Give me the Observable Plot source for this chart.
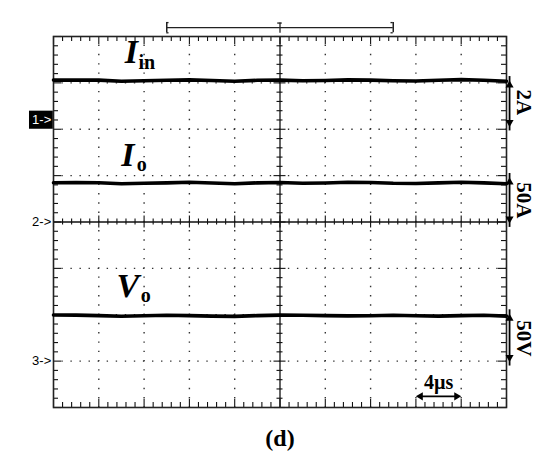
<!DOCTYPE html>
<html><head><meta charset="utf-8">
<script src="https://cdn.jsdelivr.net/npm/d3@7"></script>
<script src="https://cdn.jsdelivr.net/npm/@observablehq/plot@0.6"></script>
<style>body{margin:0;background:#fff}</style>
</head><body><div id="chart"></div>
<script>
// ---- data ----
const time = [0,2,4,6,8,10,12,14,16,18,20,22,24,26,28,30,32,34,36,38,40]; // µs
const iin  = [1.72,1.72,1.72,1.67,1.69,1.71,1.73,1.70,1.67,1.71,1.72,1.69,1.70,1.73,1.72,1.69,1.68,1.71,1.74,1.71,1.67]; // A
const io   = [42.3,42.5,42.3,41.2,41.7,42.2,42.8,42.0,41.2,42.2,42.6,41.7,42.0,42.8,42.6,41.7,41.5,42.2,42.9,42.2,41.2]; // A
const vo   = [49.7,49.6,49.1,48.4,49.0,49.4,49.1,48.5,48.3,49.1,49.6,49.4,49.1,48.8,49.0,49.4,49.0,48.5,49.1,49.4,48.5]; // V
const channelNames = ["1->","2->","3->"];
const channelGround = [2.2, 0, -3];      // divisions
const channelPerDiv = [2, 50, 50];       // units per division
const scaleLabels = ["2A","50A","50V"];
const traceMain = ["I","I","V"];
const traceSub = ["in","o","o"];
const timeLabel = "4µs";
const caption = "(d)";
const usPerDiv = 4;

// ---- layout ----
const W = 550, H = 462, ML = 53, MR = 44, MT = 36, MB = 55;
const XPX = (W - ML - MR) / 40, YPX = (H - MT - MB) / 8;
const series = [iin, io, vo];
const traces = series.flatMap((vals, c) => time.map((t, i) => ({t, c, y: channelGround[c] + vals[i] / channelPerDiv[c]})));

const minorX = d3.range(0, 51).map(i => ({x: i * 0.8, major: i % 5 === 0}));
const minorY = d3.range(0, 41).map(i => ({y: -4 + i * 0.2, major: i % 5 === 0}));
const gridX = [1,2,3,4,6,7,8,9].map(k => k * usPerDiv);
const gridY = [-3,-2,-1,1,2,3];
const edge = d => (d.major ? 8 : 5);
const cen = d => (d.major ? 6 : 3);

const mainPos = [{x:6.3,y:3.42},{x:5.98,y:1.20},{x:5.56,y:-1.62}];
const subPos = [{x:7.5,y:3.30},{x:7.35,y:1.11},{x:7.7,y:-1.72}];
const scaleArrows = [{y1:2.05,y2:3.05},{y1:-0.03,y2:0.96},{y1:-3.02,y2:-1.98}];
const scaleLabelY = [2.58, 0.47, -2.51];
const markerY = [2.2, 0, -3];
const ax = 40.27, lx = 41.5;

const ink = "#111";
const chart = Plot.plot({
  width: W, height: H, marginLeft: ML, marginRight: MR, marginTop: MT, marginBottom: MB,
  x: {domain: [0, 40], axis: null},
  y: {domain: [-4, 4], axis: null},
  marks: [
    // dotted grid
    Plot.ruleX(gridX, {x: d => d, y1: -4, y2: 4, stroke: "#333", strokeWidth: 1.4, strokeDasharray: `1.4,${(0.2*YPX-1.4).toFixed(3)}`, strokeDashoffset: 0.7}),
    Plot.ruleY(gridY, {y: d => d, x1: 0, x2: 40, stroke: "#333", strokeWidth: 1.4, strokeDasharray: `1.4,${(0.2*usPerDiv*XPX-1.4).toFixed(3)}`, strokeDashoffset: 0.7}),
    // center cross
    Plot.ruleX([20], {x: d => d, y1: -4, y2: 4, stroke: ink, strokeWidth: 1.3}),
    Plot.ruleY([0], {y: d => d, x1: 0, x2: 40, stroke: ink, strokeWidth: 1.3}),
    Plot.ruleX(minorX, {x: "x", y1: d => -cen(d)/YPX, y2: d => cen(d)/YPX, stroke: ink, strokeWidth: 1.1}),
    Plot.ruleY(minorY, {y: "y", x1: d => 20 - cen(d)/XPX, x2: d => 20 + cen(d)/XPX, stroke: ink, strokeWidth: 1.1}),
    // edge ticks
    Plot.ruleX(minorX, {x: "x", y1: 4, y2: d => 4 - edge(d)/YPX, stroke: ink, strokeWidth: 1.1}),
    Plot.ruleX(minorX, {x: "x", y1: -4, y2: d => -4 + edge(d)/YPX, stroke: ink, strokeWidth: 1.1}),
    Plot.ruleY(minorY, {y: "y", x1: 0, x2: d => edge(d)/XPX, stroke: ink, strokeWidth: 1.1}),
    Plot.ruleY(minorY, {y: "y", x1: 40, x2: d => 40 - edge(d)/XPX, stroke: ink, strokeWidth: 1.1}),
    Plot.frame({stroke: "#222", strokeWidth: 1.6}),
    // traces
    Plot.line(traces, {x: "t", y: "y", z: "c", stroke: "#000", strokeWidth: 3.6, curve: "linear"}),
    // trace labels
    Plot.text(traceMain, {x: (d,i) => mainPos[i].x, y: (d,i) => mainPos[i].y, text: d => d, textAnchor: "start", lineAnchor: "bottom", fontFamily: "Liberation Serif", fontStyle: "italic", fontWeight: "bold", fontSize: 34, fill: "#000"}),
    Plot.text(traceSub, {x: (d,i) => subPos[i].x, y: (d,i) => subPos[i].y, text: d => d, textAnchor: "start", lineAnchor: "bottom", fontFamily: "Liberation Serif", fontWeight: "bold", fontSize: 20, fill: "#000"}),
    // channel markers
    Plot.rect([0], {x1: -2.12, x2: -0.02, y1: 2.0, y2: 2.39, fill: "#000"}),
    Plot.text(channelNames, {x: -0.2, y: (d,i) => markerY[i], text: d => d, textAnchor: "end", fontFamily: "Liberation Sans", fontSize: 13, fill: (d,i) => i === 0 ? "#fff" : "#000"}),
    // scale arrows on the right
    Plot.ruleX(scaleArrows, {x: ax, y1: "y1", y2: "y2", stroke: "#000", strokeWidth: 1.8, insetTop: 4, insetBottom: 4}),
    Plot.dot(scaleArrows, {x: ax, y: "y2", symbol: "triangle", r: 3, fill: "#000", stroke: null, dy: 4.6}),
    Plot.dot(scaleArrows, {x: ax, y: "y1", symbol: "triangle", r: 3, fill: "#000", stroke: null, rotate: 180, dy: -4.6}),
    Plot.text(scaleLabels, {x: lx, y: (d,i) => scaleLabelY[i], text: d => d, rotate: 90, fontFamily: "Liberation Serif", fontWeight: "bold", fontSize: 21, fill: "#000"}),
    // time scale arrow
    Plot.ruleY([-3.76], {y: d => d, x1: 32, x2: 36, stroke: "#000", strokeWidth: 1.8, insetLeft: 4, insetRight: 4}),
    Plot.dot([32], {x: d => d, y: -3.76, symbol: "triangle", r: 3, fill: "#000", stroke: null, rotate: -90, dx: 4.6}),
    Plot.dot([36], {x: d => d, y: -3.76, symbol: "triangle", r: 3, fill: "#000", stroke: null, rotate: 90, dx: -4.6}),
    Plot.text([timeLabel], {x: 34, y: -3.6, text: d => d, lineAnchor: "bottom", fontFamily: "Liberation Serif", fontWeight: "bold", fontSize: 20, fill: "#000"}),
    // memory bracket at top
    Plot.ruleY([4.19], {y: d => d, x1: 10, x2: 30, stroke: "#222", strokeWidth: 1.3}),
    Plot.ruleX([10, 30], {x: d => d, y1: 4.08, y2: 4.30, stroke: "#222", strokeWidth: 1.5}),
    Plot.ruleY([4.08, 4.30], {y: d => d, x1: 10, x2: 10.2, stroke: "#222", strokeWidth: 1.3}),
    Plot.ruleY([4.08, 4.30], {y: d => d, x1: 29.8, x2: 30, stroke: "#222", strokeWidth: 1.3}),
    Plot.ruleX([20], {x: d => d, y1: 4.07, y2: 4.29, stroke: "#222", strokeWidth: 1.3}),
    Plot.ruleY([4.29], {y: d => d, x1: 19.8, x2: 20.2, stroke: "#222", strokeWidth: 1.3}),
    // caption
    Plot.text([caption], {x: 20, y: -4.82, text: d => d, lineAnchor: "bottom", fontFamily: "Liberation Serif", fontWeight: "bold", fontSize: 24, fill: "#000"})
  ]
});
document.getElementById("chart").append(chart);
</script>
</body></html>
